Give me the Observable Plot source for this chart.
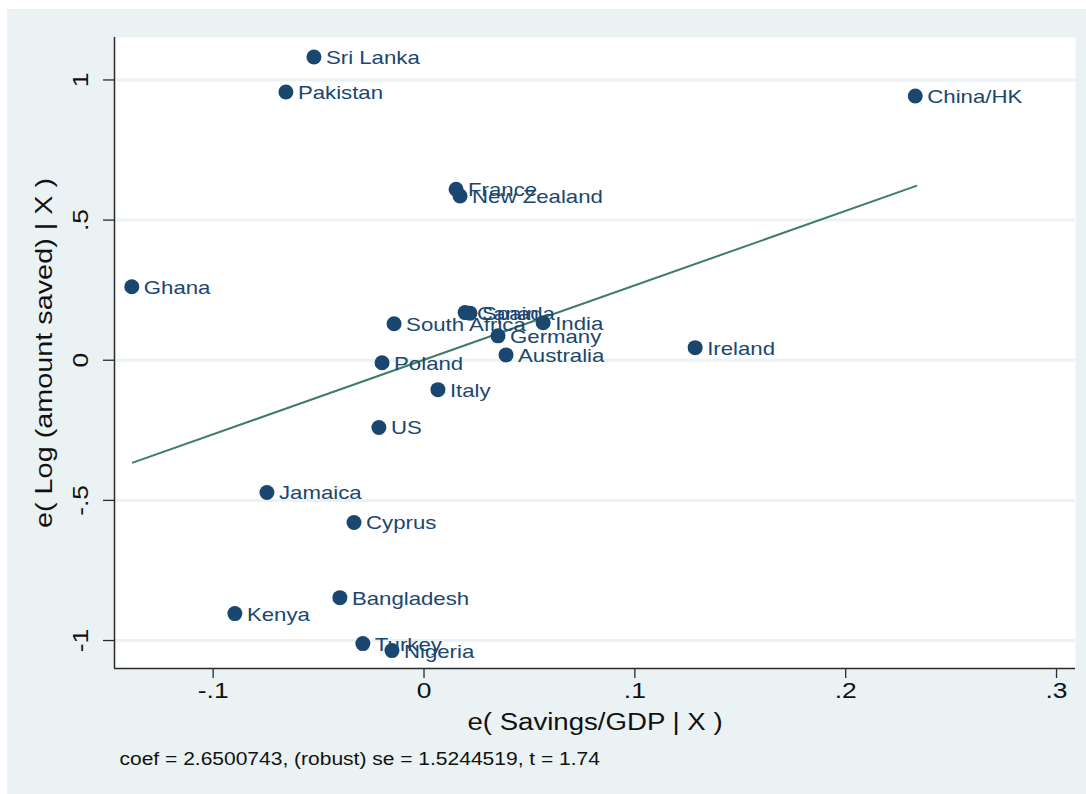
<!DOCTYPE html>
<html><head><meta charset="utf-8">
<script src="https://cdn.jsdelivr.net/npm/d3@7"></script>
<script src="https://cdn.jsdelivr.net/npm/@observablehq/plot@0.6"></script>
<style>
html,body{margin:0;padding:0;background:#fff;}
#chart{position:absolute;left:7px;top:9px;}
</style></head><body><div id="chart"></div>
<script>
const countries = ["Sri Lanka","Pakistan","China/HK","France","New Zealand","Ghana","Canada","Spain","South Africa","India","Germany","Australia","Poland","Italy","Ireland","US","Jamaica","Cyprus","Bangladesh","Kenya","Turkey","Nigeria"];
const savingsResid = [-0.0522,-0.0655,0.2330,0.0152,0.0171,-0.1386,0.0195,0.0218,-0.0142,0.0565,0.0351,0.0389,-0.0199,0.0066,0.1286,-0.0214,-0.0745,-0.0332,-0.0399,-0.0897,-0.0290,-0.0152];
const amountResid = [1.082,0.957,0.943,0.610,0.586,0.262,0.170,0.168,0.130,0.134,0.087,0.019,-0.009,-0.105,0.045,-0.240,-0.472,-0.579,-0.847,-0.904,-1.011,-1.036];
const xTicks = [-0.1, 0, 0.1, 0.2, 0.3];
const yTicks = [-1, -0.5, 0, 0.5, 1];
const xDomain = [-0.1468, 0.309];
const yDomain = [-1.0998, 1.1515];
const fitX = [-0.1381, 0.2335];
const fitY = [-0.3654, 0.6221];
const xTitle = "e( Savings/GDP | X )";
const yTitle = "e( Log (amount saved) | X )";
const caption = "coef = 2.6500743, (robust) se = 1.5244519, t = 1.74";

const fmt = v => v === 0 ? "0" : (v < 0 ? "-" : "") + String(Math.abs(v)).replace(/^0/, "");
const data = countries.map((c, i) => ({country: c, x: savingsResid[i], y: amountResid[i]}));
const fit = fitX.map((x, i) => ({x, y: fitY[i]}));

const navy = "#1a476f";
const axisCol = "#2b2b2b";

const chart = Plot.plot({
  width: 1079,
  height: 785,
  marginLeft: 107,
  marginRight: 11,
  marginTop: 28,
  marginBottom: 126,
  style: {fontFamily: "'Liberation Sans', Arial, sans-serif", background: "#eaf2f3", maxWidth: "none"},
  x: {domain: xDomain},
  y: {domain: yDomain},
  marks: [
    Plot.frame({fill: "white", stroke: "none"}),
    Plot.ruleY(yTicks, {y: d => d, stroke: "#eaf2f3", strokeWidth: 3}),
    Plot.line(fit, {x: "x", y: "y", stroke: "#3f7c6b", strokeWidth: 2}),
    Plot.dot(data, {x: "x", y: "y", r: 7.5, fill: navy, stroke: "none"}),
    Plot.text(data, {x: "x", y: "y", text: "country", textAnchor: "start", dx: 12, dy: 1, fill: navy, fontSize: 18.5, ariaLabel: "point-labels"}),
    Plot.ruleX([xDomain[0]], {x: d => d, stroke: axisCol, strokeWidth: 1.5}),
    Plot.ruleY([yDomain[0]], {y: d => d, stroke: axisCol, strokeWidth: 1.5}),
    Plot.axisX({ticks: xTicks, tickSize: 10, fill: "none", label: null, stroke: axisCol, strokeWidth: 1.3}),
    Plot.axisY({ticks: yTicks, tickSize: 11, fill: "none", label: null, stroke: axisCol, strokeWidth: 1.3}),
    Plot.text(xTicks, {x: d => d, text: fmt, frameAnchor: "bottom", dy: 29, fontSize: 22, fill: "#111", ariaLabel: "x-tick-labels"}),
    Plot.text(yTicks, {y: d => d, text: fmt, frameAnchor: "left", textAnchor: "middle", dx: -34, rotate: -90, fontSize: 22, fill: "#111", ariaLabel: "y-tick-labels"}),
    Plot.text([xTitle], {text: d => d, frameAnchor: "bottom", dy: 61, fontSize: 23, fill: "#111", ariaLabel: "x-title"}),
    Plot.text([yTitle], {text: d => d, frameAnchor: "left", textAnchor: "middle", dx: -70, rotate: -90, fontSize: 24, fill: "#111", ariaLabel: "y-title"}),
    Plot.text([caption], {text: d => d, frameAnchor: "bottom-left", dx: 5, dy: 96, textAnchor: "start", fontSize: 17.5, fill: "#111", ariaLabel: "caption"})
  ]
});
document.getElementById("chart").append(chart);

chart.querySelectorAll("text").forEach(t => {
  const g = t.closest("g[aria-label]");
  const label = g ? g.getAttribute("aria-label") : "";
  if (label === "y-tick-labels") return;
  const k = label === "y-title" ? 0.955 : 1.2;
  const len = t.getComputedTextLength();
  if (len > 0) {
    t.setAttribute("textLength", len * k);
    t.setAttribute("lengthAdjust", "spacingAndGlyphs");
  }
});
</script></body></html>
